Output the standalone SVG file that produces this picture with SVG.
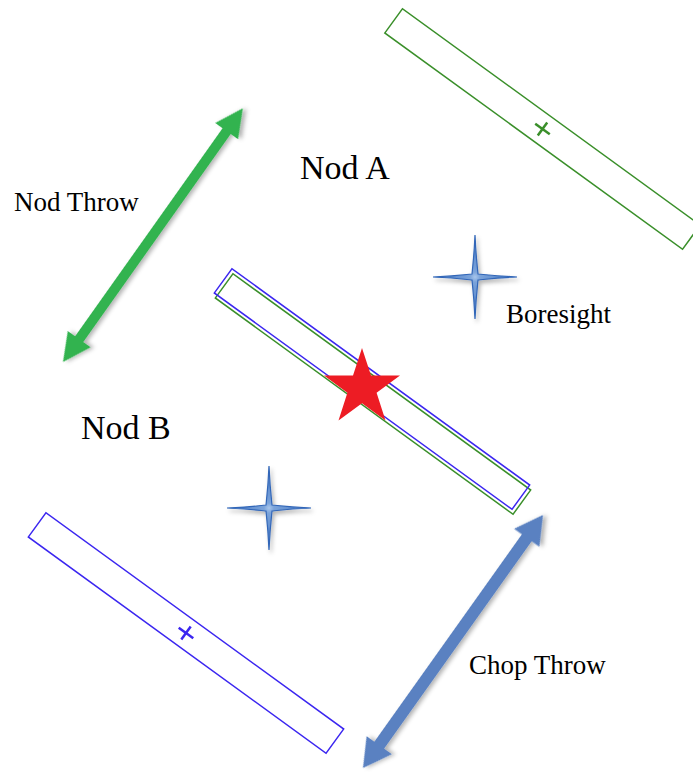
<svg xmlns="http://www.w3.org/2000/svg" width="693" height="772" viewBox="0 0 693 772">
  <style>
    .lbl { font-family: "Liberation Serif", "Times New Roman", serif; fill: #000; }
    .big { font-size: 34px; }
    .small { font-size: 27px; }
    .rg { fill: none; stroke: #3a8f2a; stroke-width: 1.5; }
    .rb { fill: none; stroke: #3b26f0; stroke-width: 1.5; }
    .xg { stroke: #3a8f2a; stroke-width: 2.5; }
    .xb { stroke: #3b26f0; stroke-width: 2.5; }
    .spark { fill: url(#sparkFill); stroke: #3166b8; stroke-width: 1.2; filter: url(#shadow); }
  </style>
  <defs>
    <radialGradient id="sparkFill" cx="0.5" cy="0.5" r="0.5">
      <stop offset="0" stop-color="#a8c6ec"/>
      <stop offset="0.12" stop-color="#7aa3da"/>
      <stop offset="1" stop-color="#4174c2"/>
    </radialGradient>
    <filter id="shadow" x="-30%" y="-30%" width="160%" height="160%">
      <feDropShadow dx="2" dy="3" stdDeviation="2" flood-color="#000" flood-opacity="0.3"/>
    </filter>
    <path id="sparkShape" d="M0,-42 C1,-20 2.5,-8 3,-3 C8,-2.5 20,-1 42,0 C20,1 8,2.5 3,3 C2.5,8 1,20 0,42 C-1,20 -2.5,8 -3,3 C-8,2.5 -20,1 -42,0 C-20,-1 -8,-2.5 -3,-3 C-2.5,-8 -1,-20 0,-42 Z"/>
  </defs>
  <rect width="693" height="772" fill="#fff"/>

  <g id="nodA-frame">
    <g transform="translate(542.5,129) rotate(36)">
      <rect class="rg" x="-184" y="-15" width="368" height="30"/>
      <line class="xg" x1="-9" y1="0" x2="9" y2="0"/>
      <line class="xg" x1="0" y1="-8" x2="0" y2="8"/>
    </g>
  </g>

  <g id="center-frames">
    <rect class="rg" x="-184" y="-15" width="368" height="30" transform="translate(373,394) rotate(36)"/>
    <rect class="rb" x="-184" y="-15" width="368" height="30" transform="translate(372,389) rotate(36)"/>
  </g>

  <g id="nodB-frame">
    <g transform="translate(186,633) rotate(36)">
      <rect class="rb" x="-184" y="-15" width="368" height="30"/>
      <line class="xb" x1="-9" y1="0" x2="9" y2="0"/>
      <line class="xb" x1="0" y1="-8" x2="0" y2="8"/>
    </g>
  </g>

  <g id="source-star">
    <polygon fill="#ed1c24" points="362,348 371,375.6 400,375.6 376.6,392.7 385.5,420.4 362,403.3 338.5,420.4 347.4,392.7 324,375.6 353,375.6"/>
  </g>

  <g id="boresight-A">
    <use href="#sparkShape" class="spark" transform="translate(475,277)"/>
  </g>
  <g id="boresight-B">
    <use href="#sparkShape" class="spark" transform="translate(269,508)"/>
  </g>

  <g id="connectors">
    <polygon id="nod-throw-arrow" fill="#30b34f" filter="url(#shadow)" transform="translate(63,362) rotate(-54.67)"
      points="0,0 28,-14 28,-5 283,-5 283,-14 311,0 283,14 283,5 28,5 28,14"/>
    <polygon id="chop-throw-arrow" fill="#5a81c1" filter="url(#shadow)" transform="translate(363,768) rotate(-54.57)"
      points="0,0 28,-15.5 28,-6 282.5,-6 282.5,-15.5 310.5,0 282.5,15.5 282.5,6 28,6 28,15.5"/>
  </g>

  <g id="label-nodA"><text class="lbl big" x="300" y="179">Nod A</text></g>
  <g id="label-nodB"><text class="lbl big" x="81" y="439">Nod B</text></g>
  <g id="label-nodthrow"><text class="lbl small" x="14" y="211">Nod Throw</text></g>
  <g id="label-boresight"><text class="lbl small" x="506" y="323">Boresight</text></g>
  <g id="label-chopthrow"><text class="lbl small" x="469" y="674">Chop Throw</text></g>
</svg>
